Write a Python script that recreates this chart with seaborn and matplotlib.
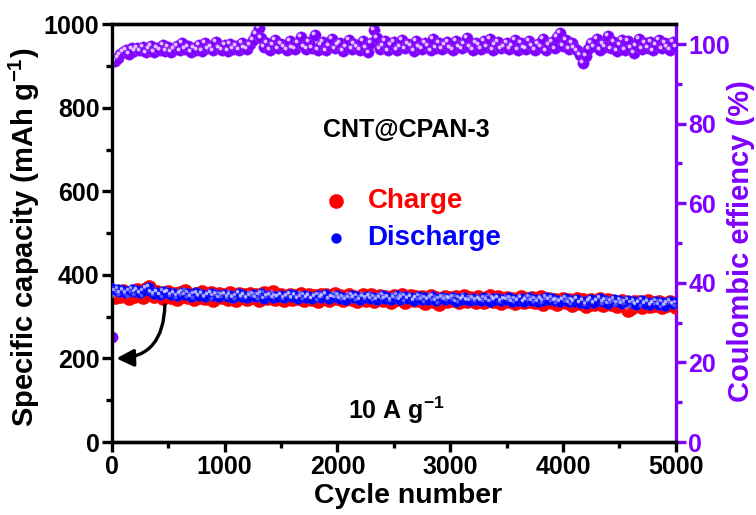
import numpy as np
import pandas as pd
import matplotlib
matplotlib.use("Agg")
import matplotlib.pyplot as plt
import matplotlib.transforms as mtransforms
import seaborn as sns

cycles = [1] + list(range(25, 5001, 25))
charge = [352, 346, 358, 349, 361, 353, 345, 357, 350, 363,
          355, 347, 366, 372, 358, 349, 360, 352, 344, 356,
          359, 348, 354, 343, 357, 350, 361, 346, 353, 342,
          355, 348, 358, 344, 351, 356, 341, 349, 354, 346,
          352, 343, 357, 348, 340, 354, 346, 351, 342, 355,
          347, 353, 341, 349, 356, 344, 350, 358, 343, 348,
          352, 339, 347, 353, 342, 350, 345, 355, 340, 348,
          353, 343, 349, 338, 351, 345, 352, 341, 347, 354,
          344, 350, 339, 346, 352, 342, 348, 337, 345, 351,
          341, 347, 353, 338, 346, 350, 340, 348, 344, 336,
          349, 342, 347, 352, 335, 344, 350, 339, 346, 341,
          348, 333, 343, 349, 338, 345, 330, 342, 348, 337,
          344, 339, 347, 334, 343, 349, 338, 345, 340, 336,
          346, 341, 335, 344, 349, 337, 342, 346, 333, 340,
          345, 338, 343, 332, 341, 347, 336, 342, 338, 345,
          334, 340, 346, 331, 339, 343, 336, 341, 330, 338,
          343, 335, 340, 329, 337, 342, 333, 339, 326, 336,
          341, 331, 337, 342, 328, 335, 340, 330, 336, 325,
          333, 338, 327, 315, 320, 334, 330, 336, 324, 332,
          337, 326, 333, 329, 336, 322, 331, 327, 334, 328,
          323]
discharge = [368, 362, 366, 358, 364, 356, 361, 367, 359, 364,
             357, 362, 369, 371, 360, 355, 359, 353, 361, 356,
             360, 352, 357, 349, 355, 360, 351, 356, 348, 354,
             358, 350, 355, 347, 352, 357, 349, 354, 346, 351,
             355, 348, 353, 345, 350, 356, 347, 352, 344, 349,
             354, 346, 351, 356, 343, 349, 353, 345, 350, 347,
             352, 344, 349, 354, 346, 351, 343, 348, 353, 345,
             350, 342, 347, 352, 344, 349, 355, 343, 348, 346,
             351, 343, 348, 340, 346, 352, 344, 349, 341, 347,
             345, 350, 342, 348, 339, 346, 351, 343, 348, 341,
             346, 352, 340, 345, 349, 342, 347, 338, 344, 349,
             341, 346, 339, 344, 350, 337, 343, 347, 340, 345,
             342, 348, 336, 344, 339, 346, 341, 337, 345, 340,
             343, 338, 346, 340, 335, 344, 339, 345, 337, 342,
             340, 346, 336, 342, 338, 344, 335, 341, 347, 337,
             342, 336, 343, 338, 348, 340, 345, 337, 341, 335,
             339, 344, 334, 340, 336, 342, 333, 338, 331, 337,
             342, 333, 338, 344, 335, 340, 331, 337, 342, 334,
             339, 330, 336, 341, 332, 338, 327, 334, 339, 330,
             336, 328, 333, 338, 329, 335, 326, 332, 337, 331,
             334]
efficiency = [26.5, 95.8, 96.6, 97.4, 98.0, 98.5, 97.6, 98.9, 98.2, 99.1,
              98.4, 99.3, 97.9, 98.7, 99.6, 98.1, 99.0, 98.6, 99.8, 98.3,
              99.2, 98.0, 98.8, 99.5, 98.4, 100.2, 98.7, 99.4, 98.1, 99.0,
              98.5, 99.7, 98.2, 100.4, 98.9, 99.3, 98.4, 100.6, 99.1, 98.6,
              99.8, 98.3, 100.1, 98.8, 99.5, 98.5, 100.3, 99.0, 98.7, 99.9,
              101.0, 102.6, 104.0, 101.5, 99.2, 100.4, 98.6, 99.7, 101.1, 98.9,
              100.0, 99.3, 98.5, 100.7, 99.1, 98.8, 100.2, 101.8, 99.4, 98.7,
              100.5, 99.0, 102.3, 98.6, 99.8, 100.6, 98.4, 99.5, 101.2, 98.9,
              99.7, 100.4, 98.3, 99.2, 101.0, 98.8, 100.1, 99.4, 98.5, 100.8,
              99.1, 97.9, 100.3, 103.5, 101.6, 98.7, 99.6, 100.9, 98.4, 99.8,
              100.5, 98.6, 99.3, 101.1, 98.9, 100.0, 99.5, 98.3, 100.7, 99.2,
              98.8, 100.2, 99.6, 98.4, 101.3, 99.0, 100.4, 98.7, 99.9, 100.6,
              99.1, 98.5, 100.8, 99.4, 98.9, 100.1, 101.5, 99.3, 98.6, 100.3,
              99.7, 98.8, 100.9, 99.2, 101.4, 98.6, 99.9, 100.5, 98.9, 99.4,
              100.2, 98.7, 99.6, 101.0, 98.5, 100.4, 99.1, 98.8, 100.7, 99.5,
              98.6, 100.1, 99.3, 101.2, 98.4, 99.8, 100.6, 98.9, 101.7, 102.8,
              99.6, 101.1, 98.7, 100.3, 99.0, 98.4, 97.2, 95.3, 97.0, 98.8,
              100.2, 99.4, 101.3, 98.6, 100.0, 99.2, 102.1, 98.9, 100.5, 98.3,
              99.7, 101.0, 98.6, 100.8, 99.1, 97.8, 99.5, 101.4, 98.7, 100.2,
              99.0, 100.6, 98.4, 99.8, 101.1, 98.9, 100.3, 99.4, 98.6, 100.5,
              99.2]

df = pd.DataFrame({"cycle": cycles, "charge": charge,
                   "discharge": discharge, "ce": efficiency})

sns.set_style("ticks")
plt.rcParams["font.family"] = ["Liberation Sans", "DejaVu Sans"]
plt.rcParams["font.weight"] = "bold"
plt.rcParams["mathtext.fontset"] = "custom"
plt.rcParams["mathtext.rm"] = "Liberation Sans:bold"
plt.rcParams["mathtext.bf"] = "Liberation Sans:bold"
plt.rcParams["mathtext.default"] = "bf"
for k in ["text.color", "axes.labelcolor", "xtick.color", "ytick.color", "axes.edgecolor"]:
    plt.rcParams[k] = "black"

RED = "#FF0000"
BLUE = "#0000FF"
PURPLE = "#8000FF"

fig = plt.figure(figsize=(7.56, 5.15), dpi=100)
ax = fig.add_axes([0.148, 0.1417, 0.746, 0.8113])
ax2 = ax.twinx()

def highlight(a, x, y, s, alpha=0.75):
    tr = mtransforms.offset_copy(a.transData, fig=fig, x=-1.4, y=1.4, units="points")
    a.scatter(x, y, s=s, color="white", alpha=alpha, linewidths=0, transform=tr, zorder=4)

sns.scatterplot(data=df, x="cycle", y="charge", ax=ax, s=105, color=RED,
                edgecolor=RED, linewidth=0.3, label="Charge", zorder=2)
highlight(ax, df["cycle"], df["charge"], 8, 0.3)
sns.scatterplot(data=df, x="cycle", y="discharge", ax=ax, s=52, color=BLUE,
                edgecolor="#3030FF", linewidth=0.3, label="Discharge", zorder=3)
highlight(ax, df["cycle"], df["discharge"], 6, 0.6)

sns.scatterplot(data=df, x="cycle", y="ce", ax=ax2, s=68, color=PURPLE,
                edgecolor="#9A40FF", linewidth=0.3, zorder=3, legend=False)
highlight(ax2, df["cycle"], df["ce"], 8)

ax.set_xlim(0, 5000)
ax.set_ylim(0, 1000)
ax2.set_ylim(0, 105)
ax.set_xticks(range(0, 5001, 1000))
ax.set_xticks(range(500, 5000, 1000), minor=True)
ax.set_yticks(range(0, 1001, 200))
ax.set_yticks(range(100, 1000, 200), minor=True)
ax2.set_yticks(range(0, 101, 20))
ax2.set_yticks(range(10, 101, 20), minor=True)

for sp in ax.spines.values():
    sp.set_linewidth(2.4)
for name, sp in ax2.spines.items():
    sp.set_linewidth(2.4)
ax2.spines["right"].set_color(PURPLE)
ax.spines["right"].set_visible(False)
ax2.spines["left"].set_visible(False)

ax.tick_params(axis="both", which="major", direction="out", length=7, width=2.4,
               labelsize=18, pad=2, colors="black")
ax.tick_params(axis="both", which="minor", direction="out", length=4, width=2.4,
               colors="black")
ax2.tick_params(axis="y", which="major", direction="out", length=7, width=2.4,
                labelsize=18, colors=PURPLE, pad=2)
ax2.tick_params(axis="y", which="minor", direction="out", length=4, width=2.4,
                colors=PURPLE)
for lab in ax.get_xticklabels() + ax.get_yticklabels() + ax2.get_yticklabels():
    lab.set_fontweight("bold")

ax.set_xlabel("Cycle number", fontsize=20.5, fontweight="bold")
ax.set_ylabel("Specific capacity (mAh g$^{-1}$)", fontsize=21, fontweight="bold")
ax2.set_ylabel("Coulombic effiency (%)", fontsize=21, fontweight="bold", color=PURPLE)
ax.xaxis.set_label_coords(0.525, -0.098)
ax.yaxis.set_label_coords(-0.124, 0.49)
ax2.yaxis.set_label_coords(1.09, 0.48)

ax.text(2606, 746, "CNT@CPAN-3", fontsize=18, fontweight="bold",
        ha="center", va="center", color="black")
ax.text(2518, 77, "10 A g$^{-1}$", fontsize=18, fontweight="bold",
        ha="center", va="center", color="black")

ax.annotate("", xy=(15, 200), xytext=(470, 335),
            arrowprops=dict(arrowstyle="-|>", connectionstyle="angle3,angleA=90,angleB=0",
                            lw=2.4, color="black", mutation_scale=26))

leg = ax.legend(loc="upper left", bbox_to_anchor=(0.372, 0.608), frameon=False,
                fontsize=20, handlelength=1.0, handletextpad=0.65, labelspacing=0.4,
                borderaxespad=0, borderpad=0, labelcolor="markerfacecolor")
for t in leg.get_texts():
    t.set_fontweight("bold")
ax.set_zorder(ax2.get_zorder() + 1)
ax.patch.set_visible(False)

fig.savefig("out.png", dpi=100)
